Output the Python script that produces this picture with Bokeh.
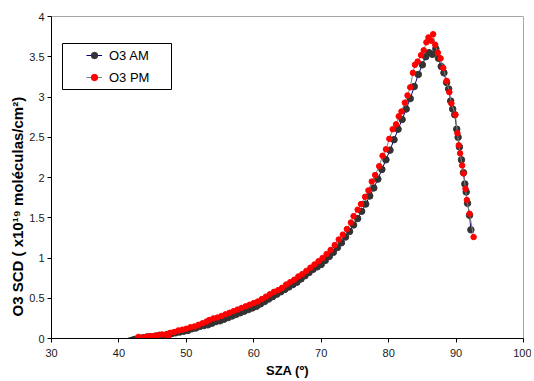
from bokeh.plotting import figure
from bokeh.models import Legend, LegendItem, FixedTicker, BoxAnnotation, Title, Range1d
from bokeh.embed import file_html
from bokeh.resources import INLINE

# ---- data ----
am_sza = [41.6, 42.0, 42.4, 43.0, 43.6, 44.2, 44.8, 45.4, 46.0, 46.6, 47.2, 47.8, 48.4, 49.0,
          49.6, 50.2, 50.8, 51.4, 52.0, 52.6, 53.2, 53.8, 54.4, 55.0, 55.6, 56.2, 56.8, 57.4,
          58.0, 58.6, 59.2, 59.8, 60.4, 61.0, 61.6, 62.2, 62.8, 63.4, 64.0, 64.6, 65.2, 65.8,
          66.4, 67.0, 67.6, 68.2, 68.8, 69.4, 70.0, 70.6, 71.2, 71.8, 72.4, 73.0, 73.6, 74.2,
          74.8, 75.4, 76.0, 76.6, 77.2, 77.8, 78.4, 79.0, 79.6, 80.2, 80.8, 81.4, 82.0, 82.6,
          83.2, 83.8, 84.4, 85.0, 85.5, 86.0, 86.5, 87.0, 87.4, 87.8, 88.2, 88.6, 88.9, 89.2,
          89.5, 89.8, 90.1, 90.3, 90.5, 90.8, 91.1, 91.3, 91.5, 91.7, 92.0, 92.2]
am_scd = [-0.03, -0.02, -0.01, 0.00, 0.01, 0.02, 0.02, 0.03, 0.04, 0.00, 0.05, 0.06, 0.07, 0.08,
          0.09, 0.10, 0.12, 0.13, 0.15, 0.16, 0.17, 0.19, 0.21, 0.22, 0.24, 0.26, 0.28, 0.30,
          0.32, 0.34, 0.36, 0.38, 0.40, 0.43, 0.46, 0.49, 0.52, 0.55, 0.58, 0.61, 0.64, 0.67,
          0.70, 0.74, 0.78, 0.82, 0.86, 0.89, 0.92, 0.97, 1.02, 1.07, 1.13, 1.19, 1.26, 1.33,
          1.41, 1.49, 1.58, 1.67, 1.77, 1.87, 1.98, 2.10, 2.22, 2.34, 2.47, 2.60, 2.72, 2.85,
          2.98, 3.13, 3.28, 3.40, 3.50, 3.55, 3.53, 3.60, 3.48, 3.38, 3.30, 3.18, 3.10, 2.95,
          2.85, 2.78, 2.60, 2.50, 2.38, 2.22, 2.06, 1.92, 1.82, 1.68, 1.53, 1.35]

pm_sza = [42.9, 43.5, 44.0, 44.6, 45.2, 45.8, 46.4, 47.0, 47.3, 47.6, 48.2, 48.8, 49.4, 50.0,
          50.6, 51.2, 51.8, 52.4, 53.0, 53.4, 54.0, 54.6, 55.2, 55.8, 56.4, 57.0, 57.6, 58.2,
          58.8, 59.4, 60.0, 60.6, 61.2, 61.8, 62.4, 63.0, 63.6, 64.2, 64.8, 65.4, 66.0, 66.6,
          67.2, 67.8, 68.4, 69.0, 69.6, 70.2, 70.8, 71.4, 72.0, 72.6, 73.2, 73.8, 74.4, 74.8,
          75.4, 75.9, 76.5, 77.0, 77.5, 78.0, 78.6, 79.1, 79.6, 80.1, 80.6, 81.1, 81.5, 81.9,
          82.4, 82.8, 83.2, 83.6, 83.9, 84.3, 84.8, 85.2, 85.6, 85.9, 86.3, 86.6, 86.9, 87.3,
          87.7, 88.1, 88.6, 89.0, 89.3, 89.9, 90.2, 90.4, 90.6, 90.9, 91.1, 91.4, 91.6, 92.0,
          92.6]
pm_scd = [0.02, 0.01, 0.02, 0.03, 0.03, 0.04, 0.05, 0.05, 0.02, 0.07, 0.08, 0.10, 0.11, 0.12,
          0.14, 0.15, 0.17, 0.19, 0.21, 0.23, 0.25, 0.26, 0.28, 0.30, 0.32, 0.34, 0.36, 0.38,
          0.40, 0.42, 0.44, 0.46, 0.49, 0.52, 0.55, 0.58, 0.60, 0.63, 0.67, 0.70, 0.73, 0.77,
          0.80, 0.84, 0.88, 0.92, 0.96, 1.00, 1.05, 1.10, 1.16, 1.23, 1.29, 1.36, 1.44, 1.52,
          1.60, 1.67, 1.76, 1.84, 1.95, 2.03, 2.14, 2.27, 2.35, 2.48, 2.60, 2.66, 2.76, 2.82,
          2.93, 3.02, 3.12, 3.30, 3.40, 3.44, 3.52, 3.58, 3.68, 3.74, 3.70, 3.78, 3.65, 3.55,
          3.48, 3.36, 3.20, 3.06, 2.92, 2.78, 2.55, 2.40, 2.30, 2.15, 2.05, 1.86, 1.72, 1.55,
          1.26]

x_ticks = [30, 40, 50, 60, 70, 80, 90, 100]
y_ticks = [0, 0.5, 1, 1.5, 2, 2.5, 3, 3.5, 4]
y_tick_labels = ["0", "0.5", "1", "1.5", "2", "2.5", "3", "3.5", "4"]
series_names = ["O3 AM", "O3 PM"]
x_title = "SZA (º)"
y_title = "O3 SCD ( x10¹⁹ moléculas/cm²)"

FONT = "Liberation Sans"

p = figure(width=531, height=380, title=None,
           x_range=Range1d(30, 100), y_range=Range1d(0, 4),
           output_backend="svg", toolbar_location=None,
           min_border_left=51, min_border_right=8,
           min_border_top=16, min_border_bottom=40)
p.xgrid.visible = False
p.ygrid.visible = False
p.background_fill_color = "white"
p.border_fill_color = "white"
p.outline_line_color = "#a6a6a6"
p.outline_line_width = 1

for ax in (p.xaxis[0], p.yaxis[0]):
    ax.axis_line_color = "black"
    ax.major_tick_line_color = "black"
    ax.major_tick_in = 0
    ax.major_tick_out = 4
    ax.minor_tick_line_color = None
    ax.major_label_text_font = FONT
    ax.major_label_text_font_size = "11px"
    ax.major_label_text_color = "#1a1a1a"

p.xaxis[0].ticker = FixedTicker(ticks=x_ticks)
p.yaxis[0].ticker = FixedTicker(ticks=y_ticks)
p.yaxis[0].major_label_overrides = {t: s for t, s in zip(y_ticks, y_tick_labels)}
p.xaxis[0].major_label_overrides = {t: str(t) for t in x_ticks}
p.xaxis[0].major_label_standoff = 6
p.yaxis[0].major_label_standoff = 3

p.xaxis[0].axis_label = x_title
p.xaxis[0].axis_label_text_font = FONT
p.xaxis[0].axis_label_text_font_size = "13px"
p.xaxis[0].axis_label_text_font_style = "bold"
p.xaxis[0].axis_label_text_color = "black"
p.xaxis[0].axis_label_standoff = 3

# left-aligned title on the left side: offset = distance from the frame bottom
p.add_layout(Title(text=y_title, align="left", offset=22, standoff=2,
                   text_font=FONT, text_font_size="15px", text_font_style="bold",
                   text_color="black"), "left")

am_line = p.line(am_sza, am_scd, line_color="#000080", line_width=1)
am_pts = p.scatter(am_sza, am_scd, marker="circle", size=6.5,
                   fill_color="#333333", line_color="#333333")
pm_line = p.line(pm_sza, pm_scd, line_color="#808080", line_width=1)
pm_pts = p.scatter(pm_sza, pm_scd, marker="circle", size=5.5,
                   fill_color="#ff0000", line_color="#ff0000")

box = BoxAnnotation(left=11, right=120, bottom=249, top=295,
                    left_units="screen", right_units="screen",
                    bottom_units="screen", top_units="screen",
                    fill_color="white", fill_alpha=1.0,
                    line_color="black", line_width=1, line_alpha=1.0)
p.add_layout(box)

legend = Legend(items=[LegendItem(label=series_names[0], renderers=[am_line, am_pts]),
                       LegendItem(label=series_names[1], renderers=[pm_line, pm_pts])],
                location=(35, 251), orientation="vertical",
                padding=0, spacing=2, margin=0,
                glyph_width=16, glyph_height=20, label_height=20,
                label_standoff=7,
                label_text_font=FONT, label_text_font_size="13px",
                label_text_color="black",
                border_line_alpha=0, background_fill_alpha=0)
p.add_layout(legend)

open("out.html", "w").write(file_html(p, INLINE))
